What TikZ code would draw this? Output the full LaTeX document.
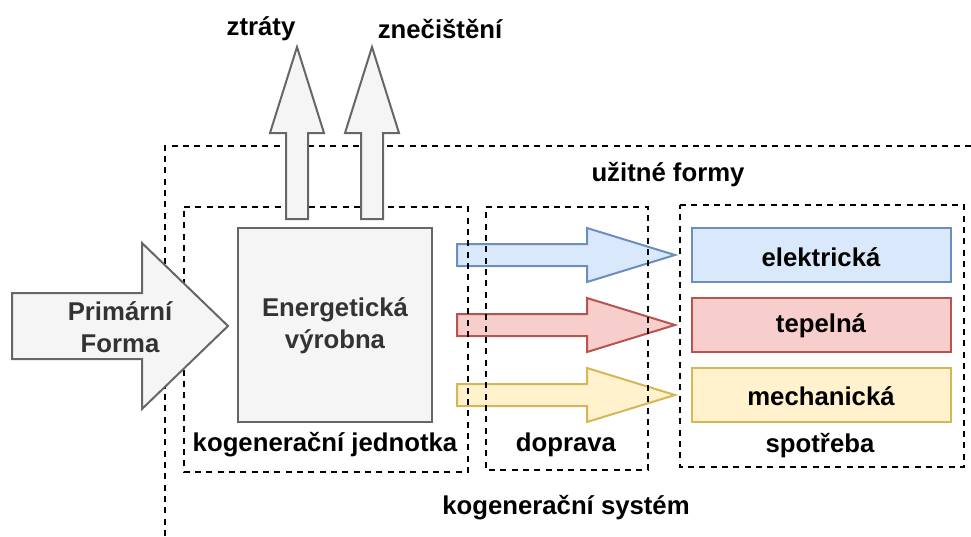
\documentclass[tikz,border=0pt]{standalone}
\usepackage{fontspec}
\setmainfont{Liberation Sans}

\definecolor{grayFill}{HTML}{F5F5F5}
\definecolor{grayLine}{HTML}{666666}
\definecolor{darkText}{HTML}{333333}
\definecolor{blueFill}{HTML}{DAE8FC}
\definecolor{blueLine}{HTML}{6C8EBF}
\definecolor{redFill}{HTML}{F8CECC}
\definecolor{redLine}{HTML}{B85450}
\definecolor{yellowFill}{HTML}{FFF2CC}
\definecolor{yellowLine}{HTML}{D6B656}

\tikzset{every picture/.style={line width=1.5pt}}
\tikzset{
  lbl/.style={inner sep=0.75pt, align=center, font=\fontsize{19.3}{24}\selectfont\bfseries},
  darklbl/.style={lbl, text=darkText},
  grayshape/.style={draw=grayLine, fill=grayFill, line width=1.5pt},
  bluebox/.style={draw=blueLine, fill=blueFill, line width=1.5pt},
  redbox/.style={draw=redLine, fill=redFill, line width=1.5pt},
  yellowbox/.style={draw=yellowLine, fill=yellowFill, line width=1.5pt},
  groupbox/.style={draw=black, line width=1.5pt, dash pattern=on 4.5pt off 4pt}
}

\begin{document}
\begin{tikzpicture}[x=0.75pt,y=0.75pt,yscale=-1,xscale=1]
      \useasboundingbox (0,0) rectangle (971,536);

      %Shape: Right Arrow (elektrická)
      \draw [bluebox] (457,244) -- (587,244) -- (587,228) -- (675,255) -- (587,282) -- (587,266) -- (457,266) -- cycle ;
      %Shape: Right Arrow (tepelná)
      \draw [redbox] (457,314) -- (587,314) -- (587,298) -- (675,325) -- (587,352) -- (587,336) -- (457,336) -- cycle ;
      %Shape: Right Arrow (mechanická)
      \draw [yellowbox] (457,384) -- (587,384) -- (587,368) -- (675,395) -- (587,422) -- (587,406) -- (457,406) -- cycle ;

      %Dashed Lines: kogenerační systém
      \draw [groupbox] (971,146) -- (165,146) -- (165,536) ;
      %Shape: Rectangle, kogenerační jednotka
      \draw [groupbox] (184,207) -- (468,207) -- (468,472) -- (184,472) -- cycle ;
      %Shape: Rectangle, doprava
      \draw [groupbox] (486,207) -- (648,207) -- (648,470) -- (486,470) -- cycle ;
      %Shape: Rectangle, spotřeba
      \draw [groupbox] (680,205) -- (964,205) -- (964,467) -- (680,467) -- cycle ;

      %Shape: Up Arrow (ztráty)
      \draw [grayshape] (286,219) -- (286,133) -- (270,133) -- (297,47) -- (324,133) -- (308,133) -- (308,219) -- cycle ;
      %Shape: Up Arrow (znečištění)
      \draw [grayshape] (361,219) -- (361,133) -- (345,133) -- (372,47) -- (399,133) -- (383,133) -- (383,219) -- cycle ;
      %Shape: Rectangle, Energetická výrobna
      \draw [grayshape] (238,228) -- (432,228) -- (432,422) -- (238,422) -- cycle ;
      %Shape: Right Arrow (Primární Forma)
      \draw [grayshape] (12,293) -- (142,293) -- (142,243) -- (228,326) -- (142,409) -- (142,359) -- (12,359) -- cycle ;

      %Shape: Rectangle, elektrická
      \draw [bluebox] (692,228) -- (951,228) -- (951,282) -- (692,282) -- cycle ;
      %Shape: Rectangle, tepelná
      \draw [redbox] (692,298) -- (951,298) -- (951,352) -- (692,352) -- cycle ;
      %Shape: Rectangle, mechanická
      \draw [yellowbox] (692,368) -- (951,368) -- (951,422) -- (692,422) -- cycle ;

      % Text Node
      \node [lbl] (ztraty) at (261,29) {ztráty};
      % Text Node
      \node [lbl] (znecisteni) at (440,29) {znečištění};
      % Text Node
      \node [lbl] (uzitne) at (668,175) {užitné formy};
      % Text Node
      \node [darklbl] (primarni) at (120,327) {Primární\\Forma};
      % Text Node
      \node [darklbl] (vyrobna) at (335,326) {Energetická\\výrobna};
      % Text Node
      \node [lbl] (elektricka) at (821,257) {elektrická};
      % Text Node
      \node [lbl] (tepelna) at (821,326) {tepelná};
      % Text Node
      \node [lbl] (mechanicka) at (821,396) {mechanická};
      % Text Node
      \node [lbl] (jednotka) at (325,445) {kogenerační jednotka};
      % Text Node
      \node [lbl] (doprava) at (566,445) {doprava};
      % Text Node
      \node [lbl] (spotreba) at (820,446) {spotřeba};
      % Text Node
      \node [lbl] (system) at (566,508) {kogenerační systém};
\end{tikzpicture}
\end{document}
